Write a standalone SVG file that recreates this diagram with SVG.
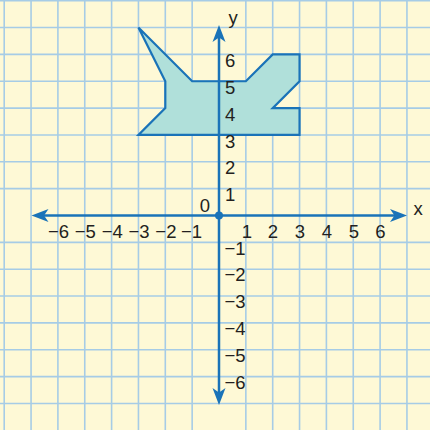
<svg xmlns="http://www.w3.org/2000/svg" xmlns:xlink="http://www.w3.org/1999/xlink" width="430" height="430" viewBox="0 0 430 430">
  <style>
    .grid line { stroke: #a6cce6; stroke-width: 1.6; }
    .axis { stroke: #1a73b8; stroke-width: 2.5; fill: none; }
    .arrow { fill: #1a73b8; }
    .shape { fill: #b0e0da; stroke: #1a73b8; stroke-width: 2.2; stroke-linejoin: miter; }
    text { font-family: "Liberation Sans", Arial, sans-serif; font-size: 18.5px; fill: #231f20; }
    .xl { text-anchor: middle; }
    .yl { text-anchor: start; }
  </style>
  <defs>
    <path id="ah" d="M0,0 L-17,-6.5 L-12.5,0 L-17,6.5 Z"/>
  </defs>
  <rect width="430" height="430" fill="#fef9d6"/>
  <g id="grid" class="grid">
    <line x1="4.2" y1="0" x2="4.2" y2="430"/>
    <line x1="31.05" y1="0" x2="31.05" y2="430"/>
    <line x1="57.9" y1="0" x2="57.9" y2="430"/>
    <line x1="84.75" y1="0" x2="84.75" y2="430"/>
    <line x1="111.6" y1="0" x2="111.6" y2="430"/>
    <line x1="138.45" y1="0" x2="138.45" y2="430"/>
    <line x1="165.3" y1="0" x2="165.3" y2="430"/>
    <line x1="192.15" y1="0" x2="192.15" y2="430"/>
    <line x1="245.85" y1="0" x2="245.85" y2="430"/>
    <line x1="272.7" y1="0" x2="272.7" y2="430"/>
    <line x1="299.55" y1="0" x2="299.55" y2="430"/>
    <line x1="326.4" y1="0" x2="326.4" y2="430"/>
    <line x1="353.25" y1="0" x2="353.25" y2="430"/>
    <line x1="380.1" y1="0" x2="380.1" y2="430"/>
    <line x1="406.95" y1="0" x2="406.95" y2="430"/>
    <line x1="0" y1="0.7" x2="430" y2="0.7"/>
    <line x1="0" y1="27.55" x2="430" y2="27.55"/>
    <line x1="0" y1="54.4" x2="430" y2="54.4"/>
    <line x1="0" y1="81.25" x2="430" y2="81.25"/>
    <line x1="0" y1="108.1" x2="430" y2="108.1"/>
    <line x1="0" y1="134.95" x2="430" y2="134.95"/>
    <line x1="0" y1="161.8" x2="430" y2="161.8"/>
    <line x1="0" y1="188.65" x2="430" y2="188.65"/>
    <line x1="0" y1="242.35" x2="430" y2="242.35"/>
    <line x1="0" y1="269.2" x2="430" y2="269.2"/>
    <line x1="0" y1="296.05" x2="430" y2="296.05"/>
    <line x1="0" y1="322.9" x2="430" y2="322.9"/>
    <line x1="0" y1="349.75" x2="430" y2="349.75"/>
    <line x1="0" y1="376.6" x2="430" y2="376.6"/>
    <line x1="0" y1="403.45" x2="430" y2="403.45"/>
  </g>
  <g id="figure">
    <polygon class="shape" points="138.45,27.55 165.3,81.25 165.3,108.1 138.45,134.95 299.55,134.95 299.55,108.1 272.7,108.1 299.55,81.25 299.55,54.4 272.7,54.4 245.85,81.25 192.15,81.25"/>
  </g>
  <g id="axes">
    <line class="axis" x1="36" y1="215.5" x2="402" y2="215.5"/>
    <line class="axis" x1="219" y1="30" x2="219" y2="400"/>
    <use href="#ah" xlink:href="#ah" class="arrow" transform="translate(407,215.5)"/>
    <use href="#ah" xlink:href="#ah" class="arrow" transform="translate(31.5,215.5) rotate(180)"/>
    <use href="#ah" xlink:href="#ah" class="arrow" transform="translate(219,25) rotate(-90)"/>
    <use href="#ah" xlink:href="#ah" class="arrow" transform="translate(219,405) rotate(90)"/>
    <circle cx="219" cy="215.5" r="4" fill="#1a73b8"/>
  </g>
  <g id="labels">
    <text x="418" y="215" class="xl">x</text>
    <text x="233" y="24" class="xl">y</text>
    <text x="205" y="212" class="xl">0</text>
    <text x="58.5" y="238" class="xl">−6</text>
    <text x="85.3" y="238" class="xl">−5</text>
    <text x="112.2" y="238" class="xl">−4</text>
    <text x="139" y="238" class="xl">−3</text>
    <text x="165.9" y="238" class="xl">−2</text>
    <text x="191.5" y="238" class="xl">−1</text>
    <text x="247" y="238" class="xl">1</text>
    <text x="273" y="238" class="xl">2</text>
    <text x="300" y="238" class="xl">3</text>
    <text x="327" y="238" class="xl">4</text>
    <text x="354" y="238" class="xl">5</text>
    <text x="380.5" y="238" class="xl">6</text>
    <text x="225" y="67" class="yl">6</text>
    <text x="225" y="93.8" class="yl">5</text>
    <text x="225" y="120.6" class="yl">4</text>
    <text x="225" y="147.5" class="yl">3</text>
    <text x="225" y="174.3" class="yl">2</text>
    <text x="225" y="201" class="yl">1</text>
    <text x="224.5" y="254.5" class="yl">−1</text>
    <text x="224.5" y="281.4" class="yl">−2</text>
    <text x="224.5" y="308.2" class="yl">−3</text>
    <text x="224.5" y="335" class="yl">−4</text>
    <text x="224.5" y="361.9" class="yl">−5</text>
    <text x="224.5" y="388.7" class="yl">−6</text>
  </g>
</svg>
